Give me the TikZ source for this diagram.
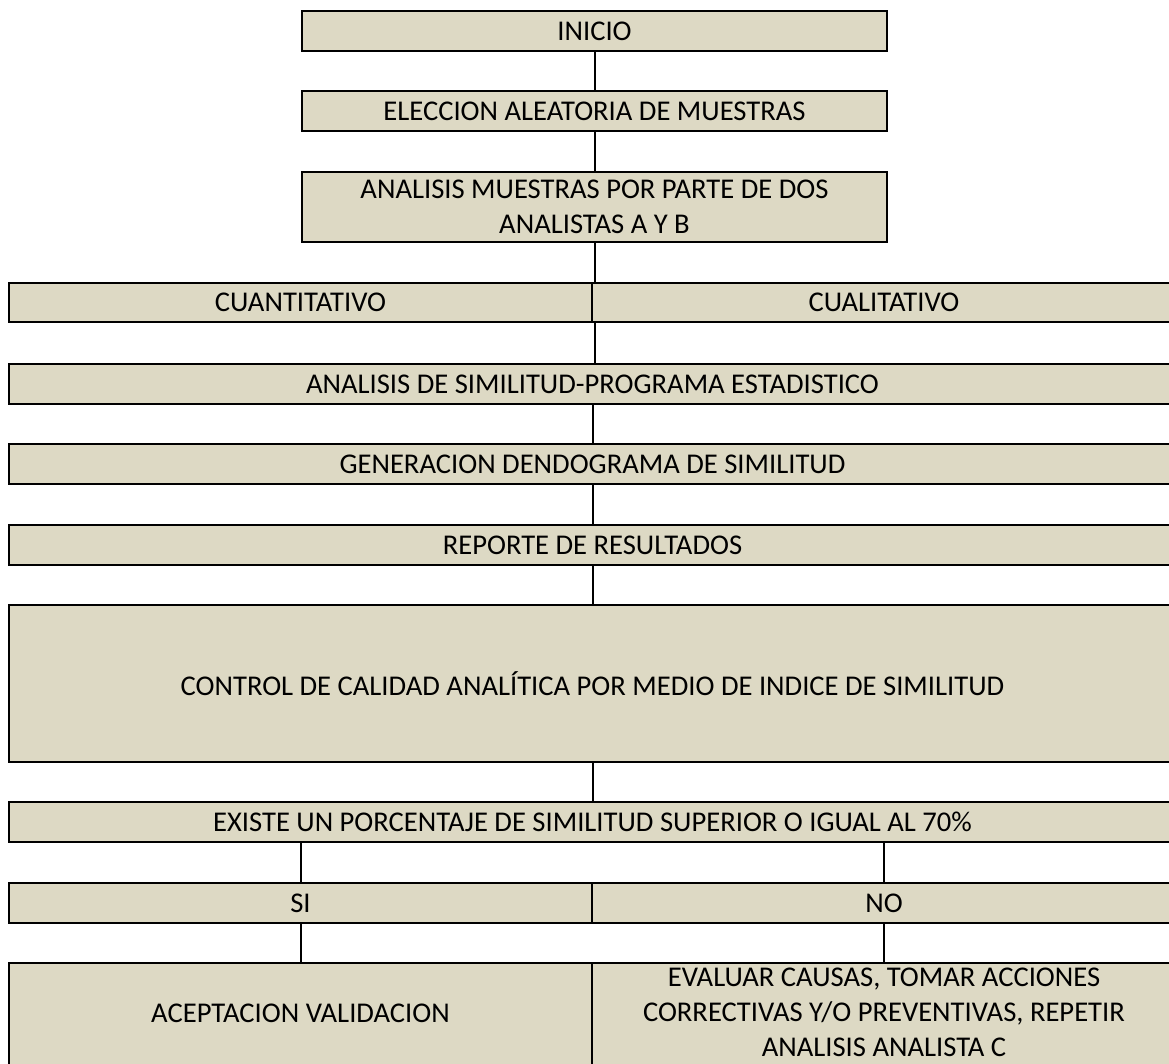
\documentclass[tikz,border=0pt]{standalone}
\usepackage{fontspec}
\setmainfont{Carlito}
\definecolor{boxtan}{HTML}{DDD9C4}
\begin{document}
\begin{tikzpicture}[x=1pt,y=-1pt,
  box/.style={draw=black, line width=2.8pt, fill=boxtan, inner sep=0pt,
    font=\fontsize{28.6}{35.5}\selectfont, align=center},
  conn/.style={draw=black, line width=2pt}]
\useasboundingbox (0,0) rectangle (1169,1063);
\clip (0,0) rectangle (1169,1063);
% top column
\node[box, minimum width=585pt, minimum height=40pt] (inicio) at (594.5,31) {INICIO};
\node[box, minimum width=585pt, minimum height=40pt] (eleccion) at (594.5,111) {ELECCION ALEATORIA DE MUESTRAS};
\node[box, minimum width=585pt, minimum height=70pt] (analisis) at (594.5,207) {ANALISIS MUESTRAS POR PARTE DE DOS\\ANALISTAS A Y B};
% split row
\node[box, minimum width=583pt, minimum height=39pt] (cuant) at (300.5,302.5) {CUANTITATIVO};
\node[box, minimum width=584pt, minimum height=39pt] (cual) at (884,302.5) {CUALITATIVO};
% full-width rows
\node[box, minimum width=1167pt, minimum height=40pt] (sim) at (592.5,384) {ANALISIS DE SIMILITUD-PROGRAMA ESTADISTICO};
\node[box, minimum width=1167pt, minimum height=40pt] (gen) at (592.5,464) {GENERACION DENDOGRAMA DE SIMILITUD};
\node[box, minimum width=1167pt, minimum height=40pt] (rep) at (592.5,545) {REPORTE DE RESULTADOS};
\node[box, minimum width=1167pt, minimum height=157pt] (ctrl) at (592.5,683.5) {CONTROL DE CALIDAD ANAL\'ITICA POR MEDIO DE INDICE DE SIMILITUD};
\node[box, minimum width=1167pt, minimum height=40pt] (exist) at (592.5,822) {EXISTE UN PORCENTAJE DE SIMILITUD SUPERIOR O IGUAL AL 70\%};
% decision row
\node[box, minimum width=583pt, minimum height=40pt] (si) at (300.5,903) {SI};
\node[box, minimum width=584pt, minimum height=40pt] (no) at (884,903) {NO};
% outcomes
\node[box, line width=2pt, minimum width=583pt, minimum height=103pt] (acep) at (300.5,1014.5) {\raisebox{3.5pt}{ACEPTACION VALIDACION}};
\node[box, line width=2pt, minimum width=584pt, minimum height=103pt] (eval) at (884,1014.5) {\raisebox{-6pt}[0pt][0pt]{\begin{tabular}{@{}c@{}}EVALUAR CAUSAS, TOMAR ACCIONES\\[-0.5pt]CORRECTIVAS Y/O PREVENTIVAS, REPETIR\\[-0.5pt]ANALISIS ANALISTA C\end{tabular}}};
% connectors
\draw[conn] (inicio.south) -- (eleccion.north);
\draw[conn] (eleccion.south) -- (analisis.north);
\draw[conn] (analisis.south) -- (analisis.south |- cuant.north);
\draw[conn] (analisis.south |- cuant.south) -- (analisis.south |- sim.north);
\draw[conn] (sim.south) -- (gen.north);
\draw[conn] (gen.south) -- (rep.north);
\draw[conn] (rep.south) -- (ctrl.north);
\draw[conn] (ctrl.south) -- (exist.north);
\draw[conn] (si.north |- exist.south) -- (si.north);
\draw[conn] (no.north |- exist.south) -- (no.north);
\draw[conn] (si.south) -- (acep.north);
\draw[conn] (no.south) -- (eval.north);
\end{tikzpicture}
\end{document}
